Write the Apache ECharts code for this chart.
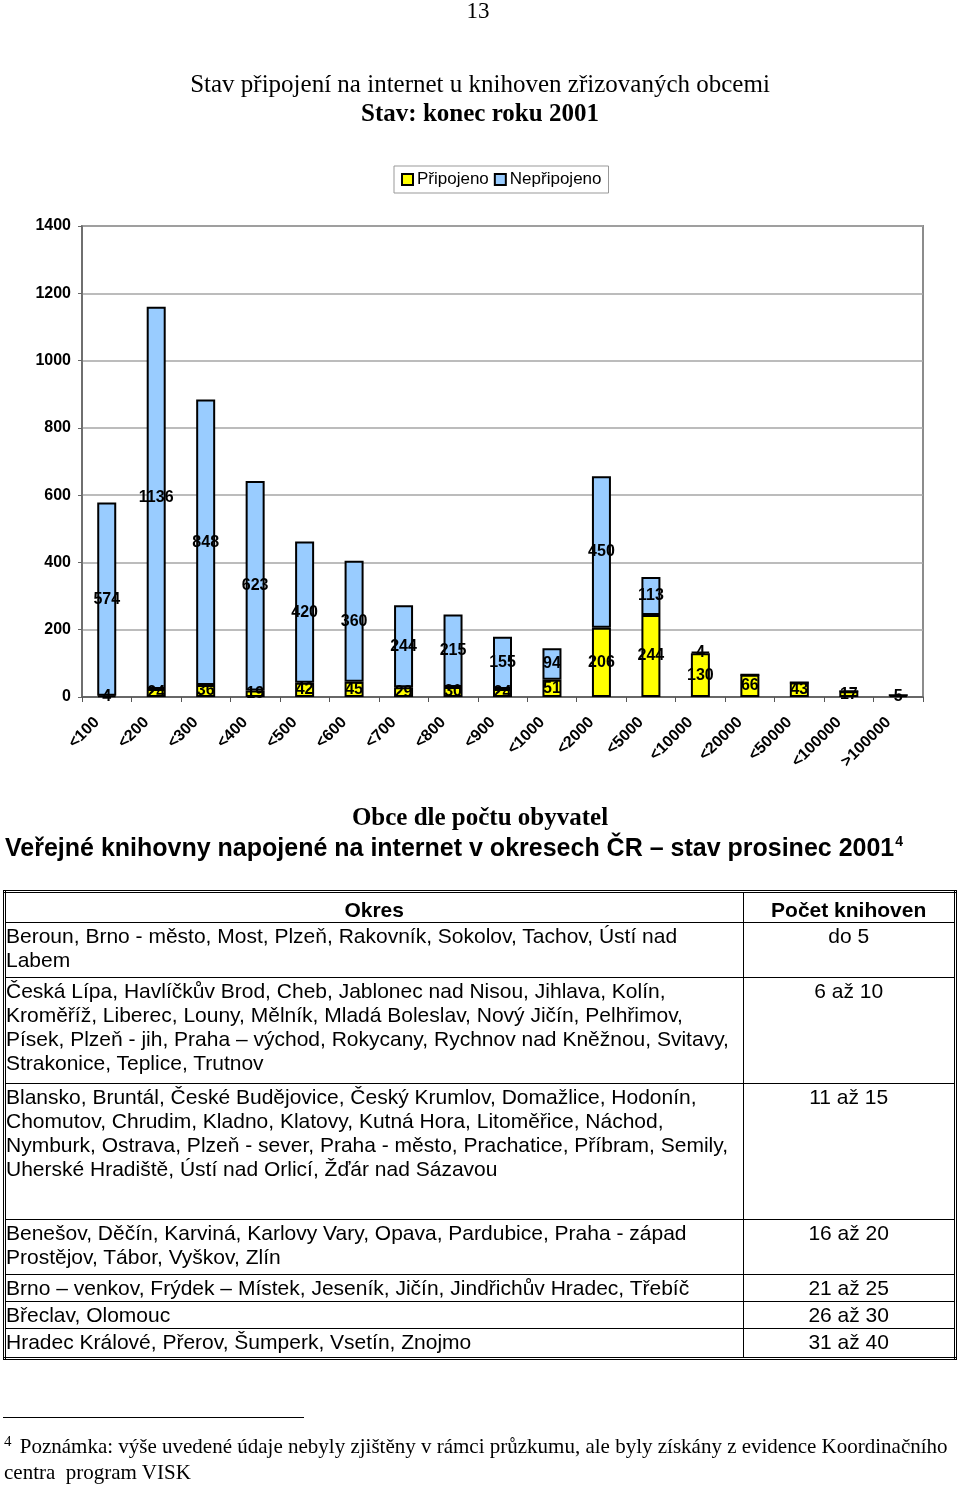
<!DOCTYPE html>
<html>
<head>
<meta charset="utf-8">
<script src="https://cdn.jsdelivr.net/npm/echarts@6/dist/echarts.min.js"></script>
<style>
  html, body { margin: 0; padding: 0; background: #fff; }
  #page { position: relative; width: 960px; height: 1486px; overflow: hidden; }
  #chart { position: absolute; left: 0; top: 0; width: 960px; height: 1486px; }
  .abs { position: absolute; }
  #pnum { left: 0; width: 956px; top: -2px; text-align: center; font-family: "Liberation Serif", serif; font-size: 23px; }
  #t2 { left: 5px; top: 832px; font-family: "Liberation Sans", Arial, sans-serif; font-weight: bold; font-size: 25px; line-height: 30px; white-space: nowrap; }
  #t2 sup { font-size: 14px; vertical-align: top; position: relative; top: -6px; left: 1px; }
  #tbl { left: 3px; top: 890px; width: 954px; border-collapse: collapse; border: 3px double #000;
         font-family: "Liberation Sans", Arial, sans-serif; font-size: 21px; line-height: 24px; }
  #tbl td { border: 1.5px solid #000; vertical-align: top; padding: 1px 1px 0 0; white-space: nowrap; box-sizing: border-box; }
  #tbl td.c { text-align: center; }
  #tbl tr.h td { font-weight: bold; text-align: center; padding-top: 5px; }
  #fnline { left: 3px; top: 1417px; width: 301px; height: 0; border-top: 1.5px solid #000; }
  #fn { left: 4px; top: 1433px; width: 956px; font-family: "Liberation Serif", serif; font-size: 21px; line-height: 26px; white-space: nowrap; }
  #fn sup { font-size: 15px; vertical-align: top; position: relative; top: -5px; margin-right: 3px; }
</style>
</head>
<body>
<div id="page">
  <div id="chart"></div>
  <div id="pnum" class="abs">13</div>
  <div id="t2" class="abs">Veřejné knihovny napojené na internet v okresech ČR – stav prosinec 2001<sup>4</sup></div>
  <table id="tbl" class="abs">
    <colgroup><col style="width:740px"><col style="width:214px"></colgroup>
    <tr class="h" style="height:31px"><td>Okres</td><td>Počet knihoven</td></tr>
    <tr style="height:55px"><td>Beroun, Brno - město, Most, Plzeň, Rakovník, Sokolov, Tachov, Ústí nad<br>Labem</td><td class="c">do 5</td></tr>
    <tr style="height:106px"><td>Česká Lípa, Havlíčkův Brod, Cheb, Jablonec nad Nisou, Jihlava, Kolín,<br>Kroměříž, Liberec, Louny, Mělník, Mladá Boleslav, Nový Jičín, Pelhřimov,<br>Písek, Plzeň - jih, Praha – východ, Rokycany, Rychnov nad Kněžnou, Svitavy,<br>Strakonice, Teplice, Trutnov</td><td class="c">6 až 10</td></tr>
    <tr style="height:136px"><td>Blansko, Bruntál, České Budějovice, Český Krumlov, Domažlice, Hodonín,<br>Chomutov, Chrudim, Kladno, Klatovy, Kutná Hora, Litoměřice, Náchod,<br>Nymburk, Ostrava, Plzeň - sever, Praha - město, Prachatice, Příbram, Semily,<br>Uherské Hradiště, Ústí nad Orlicí, Žďár nad Sázavou</td><td class="c">11 až 15</td></tr>
    <tr style="height:55px"><td>Benešov, Děčín, Karviná, Karlovy Vary, Opava, Pardubice, Praha - západ<br>Prostějov, Tábor, Vyškov, Zlín</td><td class="c">16 až 20</td></tr>
    <tr style="height:27px"><td>Brno – venkov, Frýdek – Místek, Jeseník, Jičín, Jindřichův Hradec, Třebíč</td><td class="c">21 až 25</td></tr>
    <tr style="height:27px"><td>Břeclav, Olomouc</td><td class="c">26 až 30</td></tr>
    <tr style="height:30px"><td>Hradec Králové, Přerov, Šumperk, Vsetín, Znojmo</td><td class="c">31 až 40</td></tr>
  </table>
  <div id="fnline" class="abs"></div>
  <div id="fn" class="abs"><sup>4</sup> Poznámka: výše uvedené údaje nebyly zjištěny v rámci průzkumu, ale byly získány z evidence Koordinačního<br>centra&nbsp; program VISK</div>
</div>
<script>
// ---- data ----
const categories = ['<100','<200','<300','<400','<500','<600','<700','<800','<900','<1000','<2000','<5000','<10000','<20000','<50000','<100000','>100000'];
const pripojeno   = [4, 24, 36, 19, 42, 45, 29, 30, 24, 51, 206, 244, 130, 66, 43, 17, 5];
const nepripojeno = [574, 1136, 848, 623, 420, 360, 244, 215, 155, 94, 450, 113, 4, 0, 0, 0, 0];
const yMin = 0, yMax = 1400, yStep = 200;
const seriesNames = ['Připojeno', 'Nepřipojeno'];
const titleMain = 'Stav připojení na internet u knihoven zřizovaných obcemi';
const titleSub = 'Stav: konec roku 2001';
const xAxisTitle = 'Obce dle počtu obyvatel';

const SANS = '"Liberation Sans", Arial, sans-serif';
const SERIF = '"Liberation Serif", "Times New Roman", serif';

const chart = echarts.init(document.getElementById('chart'), null, { renderer: 'canvas' });
const barLabel = {
  show: true,
  position: 'inside',
  color: '#000',
  fontFamily: SANS,
  fontWeight: 'bold',
  fontSize: 16,
  formatter: p => (p.value ? String(p.value) : '')
};
chart.setOption({
  animation: false,
  backgroundColor: 'transparent',
  title: [
    { text: titleMain, left: 'center', top: 68, textStyle: { fontFamily: SERIF, fontWeight: 'normal', fontSize: 25, color: '#000' } },
    { text: titleSub, left: 'center', top: 97, textStyle: { fontFamily: SERIF, fontWeight: 'bold', fontSize: 25, color: '#000' } },
    { text: xAxisTitle, left: 'center', top: 801, textStyle: { fontFamily: SERIF, fontWeight: 'bold', fontSize: 25, color: '#000' } }
  ],
  legend: {
    data: seriesNames,
    left: 394, top: 166,
    padding: [5, 7],
    itemGap: 5,
    itemWidth: 11, itemHeight: 11,
    icon: 'rect',
    borderColor: '#999', borderWidth: 1,
    textStyle: { fontFamily: SANS, fontSize: 17, color: '#000', padding: [0, 0, 0, -1] }
  },
  grid: {
    left: 82, right: 37, top: 226, bottom: 789,
    show: true, borderColor: '#8c8c8c', borderWidth: 2,
    outerBoundsMode: 'none'
  },
  xAxis: {
    type: 'category',
    data: categories,
    axisLine: { show: true, lineStyle: { color: '#555', width: 1.5 } },
    axisTick: { show: true, length: 5, lineStyle: { color: '#555' }, alignWithLabel: false, interval: 0 },
    axisLabel: { interval: 0, rotate: 45, margin: 13, padding: [0, 14, 0, 0], color: '#000', fontFamily: SANS, fontWeight: 'bold', fontSize: 16 },
    splitLine: { show: false }
  },
  yAxis: {
    type: 'value',
    min: yMin, max: yMax, interval: yStep,
    axisLine: { show: true, lineStyle: { color: '#666', width: 1.5 } },
    axisTick: { show: true, length: 4, lineStyle: { color: '#666' } },
    axisLabel: { margin: 11, color: '#000', fontFamily: SANS, fontWeight: 'bold', fontSize: 16, formatter: v => String(v) },
    splitLine: { show: true, lineStyle: { color: '#a6a6a6', width: 1.5 } }
  },
  series: [
    {
      name: seriesNames[0], type: 'bar', stack: 'total', data: pripojeno,
      barWidth: 19,
      itemStyle: { color: '#FFFF00', borderColor: '#000', borderWidth: 2 },
      label: barLabel
    },
    {
      name: seriesNames[1], type: 'bar', stack: 'total', data: nepripojeno,
      barWidth: 19,
      itemStyle: { color: '#99CCFF', borderColor: '#000', borderWidth: 2 },
      label: barLabel
    }
  ]
});
</script>
</body>
</html>
